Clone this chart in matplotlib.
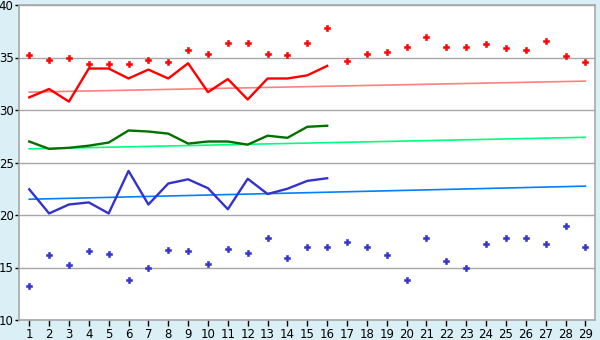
import matplotlib
matplotlib.use("Agg")
import matplotlib.pyplot as plt

# eixo x: dias 1..29
dias = list(range(1, 30))
dias_linha = list(range(1, 17))

# pontos vermelhos (máximas)
max_pontos = [35.2, 34.8, 35.0, 34.35, 34.35, 34.35, 34.8, 34.6, 35.7, 35.3,
              36.35, 36.35, 35.3, 35.2, 36.35, 37.8, 34.7, 35.3, 35.5, 36.0,
              37.0, 36.0, 36.0, 36.25, 35.9, 35.7, 36.55, 35.1, 34.6]
# linha vermelha
max_linha = [31.2, 32.0, 30.8, 33.95, 33.95, 33.0, 33.85, 33.0, 34.45, 31.7,
             32.95, 31.0, 33.0, 33.0, 33.3, 34.2]
# linha verde
med_linha = [27.0, 26.3, 26.4, 26.6, 26.9, 28.05, 27.95, 27.75, 26.8, 27.0,
             27.0, 26.7, 27.55, 27.35, 28.4, 28.5]
# linha azul
min_linha = [22.45, 20.15, 21.0, 21.2, 20.15, 24.2, 21.0, 23.0, 23.4, 22.55,
             20.55, 23.45, 22.0, 22.5, 23.25, 23.5]
# pontos azuis (mínimas)
min_pontos = [13.2, 16.15, 15.2, 16.55, 16.25, 13.85, 15.0, 16.65, 16.55, 15.3,
              16.75, 16.35, 17.8, 15.95, 17.0, 17.0, 17.4, 17.0, 16.15, 13.85,
              17.8, 15.6, 15.0, 17.2, 17.8, 17.8, 17.2, 19.0, 17.0]

# tendências (início, fim)
tend_max = [31.7, 32.75]
tend_med = [26.3, 27.4]
tend_min = [21.5, 22.75]

fundo = '#daeff6'
cinza = '#a8a8a8'

fig = plt.figure(figsize=(6, 3.4), dpi=100, facecolor=fundo)
ax = fig.add_axes([19.3 / 600, 1 - 320 / 340, 576 / 600, 315 / 340])
ax.set_facecolor('white')

ax.plot([dias[0], dias[-1]], tend_max, color='#ff8080', lw=1.2, zorder=2)
ax.plot([dias[0], dias[-1]], tend_med, color='#00ff80', lw=1.2, zorder=2)
ax.plot([dias[0], dias[-1]], tend_min, color='#0080ff', lw=1.2, zorder=2)

ax.plot(dias_linha, max_linha, color='#ff0000', lw=1.7, zorder=3)
ax.plot(dias_linha, med_linha, color='#007000', lw=1.7, zorder=3)
ax.plot(dias_linha, min_linha, color='#3333cc', lw=1.7, zorder=3)

ax.plot(dias, max_pontos, ls='none', marker='P', ms=5, mew=0.4,
        color='#ff0000', zorder=4)
ax.plot(dias, min_pontos, ls='none', marker='P', ms=4.8, mew=0.4,
        color='#3333cc', zorder=4)

ax.set_xlim(0.5, 29.5)
ax.set_ylim(10, 40)
ax.set_xticks(dias)
ax.set_yticks([10, 15, 20, 25, 30, 35, 40])
ax.grid(axis='y', color=cinza, lw=1)
ax.set_axisbelow(True)
for s in ax.spines.values():
    s.set_color(cinza)
    s.set_linewidth(1.2)
ax.tick_params(axis='both', colors='#000000', labelsize=8.5, length=4, width=1)
ax.tick_params(axis='x', pad=2)
ax.tick_params(axis='y', length=3, pad=1)

fig.savefig('out.png', dpi=100, facecolor=fundo)
